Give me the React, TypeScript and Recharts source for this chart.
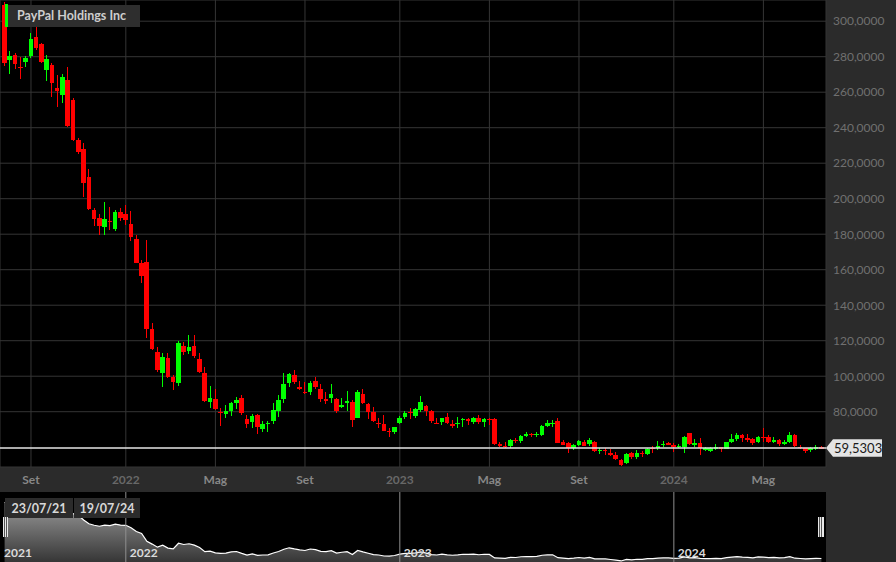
import React from 'react'
import { ComposedChart, Bar, XAxis, YAxis, CartesianGrid, ReferenceLine, AreaChart, Area } from 'recharts'

// weekly candles, PayPal, from the week ending 30/07/21 to 19/07/24
const OPEN = [
  309, 278, 281, 274.3, 277.2, 280.6, 291.1, 287, 272.4, 275.2, 262.3, 258.4, 266.9, 255.6, 233.1, 228,
  212.5, 193.6, 189.2, 183.8, 187.6, 182.8, 192.5, 191.5, 185.9, 177.1, 163.6, 164.5, 126.4, 113.5, 102, 110,
  99.7, 96, 117.2, 114.2, 117, 109.7, 102, 85.3, 87.3, 79.7, 78.5, 80.4, 84.7, 87.9, 75.9, 74.3,
  78, 70.1, 72.9, 75, 80.6, 87, 96.3, 100.7, 93.9, 91.1, 91.1, 97.3, 92.8, 87, 87.5, 87.2,
  82.8, 84.7, 85.3, 76.6, 90, 84.2, 79.7, 73.9, 72.9, 69.2, 68.7, 73.8, 76.8, 80, 77.5, 81,
  83.3, 80.4, 73.6, 74, 76.8, 72.9, 72.9, 75.2, 75.7, 74.3, 76.6, 74.3, 75.9, 75.7, 61.6, 60.8,
  60.7, 64, 63.6, 66.6, 67.6, 66.8, 66.7, 71.9, 73.1, 74.8, 63.1, 62.2, 59.7, 61.2, 63.1, 61.6,
  63.1, 57.6, 58.3, 56.9, 55.6, 52.8, 50.9, 56.6, 54.3, 56.6, 56, 59.7, 59.4, 61, 62.2, 61.2,
  60.1, 59.9, 67.8, 61.1, 62.2, 58.4, 58.1, 59, 59.9, 59, 63.1, 64.4, 66.9, 65, 64.4, 62.8,
  65.6, 65.6, 62.9, 63.8, 61.8, 62.8, 66.9, 60.3, 59.4, 58.4, 59.2, 59.9,
]
const HIGH = [
  311, 283.1, 282.3, 279.6, 280.5, 293.4, 297, 287.5, 281.2, 276.3, 269.7, 270.2, 274, 256.5, 234, 231.3,
  216.5, 194.6, 191.1, 198, 195.5, 193.6, 194.6, 196.5, 193.2, 179.6, 165.5, 176.7, 129.8, 116.6, 112.9, 113.2,
  100.7, 120, 119.4, 123.2, 123.2, 112.9, 105, 94.5, 92.6, 82.3, 83.8, 85.6, 88.5, 89.4, 78.1, 78.7,
  78.7, 75, 75, 85.1, 89.4, 102, 102, 103.5, 97.5, 96.6, 97.5, 99.4, 95.6, 91.3, 95.6, 87.6,
  87.6, 91.5, 86.6, 92.2, 92.8, 84.7, 82.8, 76.3, 78.1, 70.6, 71.5, 77.8, 80.4, 81.9, 82.3, 88.8,
  83.8, 81, 76.3, 76.5, 79.1, 75.3, 76.8, 76.3, 76.6, 76.8, 78.1, 76.3, 76.6, 76.3, 62.8, 63.1,
  64.5, 65, 67, 68.7, 68, 68.7, 72.5, 75.3, 75.3, 76.3, 64.1, 63.1, 61.6, 63.8, 63.8, 65.3,
  63.3, 59.7, 59.4, 58.8, 57.5, 53.2, 56.6, 57.5, 58.4, 58, 59.7, 60.6, 63.6, 63.6, 63.1, 62.2,
  61.9, 66.3, 68.2, 64.5, 65, 60.1, 60, 61.7, 60.3, 63.1, 67.5, 67.8, 67.5, 67.5, 65, 66.3,
  70.6, 66.9, 65.6, 64.4, 63.8, 68.4, 67.3, 61, 59.7, 60.3, 61.2, 60.8,
]
const LOW = [
  274.7, 270, 272.9, 267.2, 274, 279.3, 283.9, 276.2, 266.2, 257.5, 251.9, 254.1, 240.6, 232.5, 225.3, 200.8,
  193.6, 184.6, 179.8, 179.8, 182.4, 182, 187.6, 185.2, 176, 163.6, 152.3, 121.3, 114.8, 102.5, 94.1, 98.8,
  92, 94.6, 111.9, 112.5, 110, 101.6, 85.6, 81.9, 81, 72, 76.3, 77.6, 81.4, 78.1, 70.6, 71,
  67.3, 68.4, 68.5, 73.1, 77.2, 85.1, 93.7, 95.4, 92.5, 89.8, 89.4, 92.8, 85.6, 84.2, 85.1, 79.1,
  82, 80.6, 71.2, 76.3, 84.2, 75.7, 74.3, 70.6, 69.1, 65.9, 67.3, 72.9, 75.7, 75.7, 76.6, 79.7,
  77.8, 73.8, 72.9, 72.5, 72.9, 71, 71, 71.5, 72.5, 72.9, 72.9, 71.5, 72.5, 61.2, 60.3, 59.4,
  59.4, 62.2, 62.5, 65.5, 65.5, 65.5, 66.3, 71.5, 71.5, 62.2, 61, 56.9, 58.4, 60.7, 60.4, 60.8,
  57.4, 56.1, 55.6, 55, 52.8, 49.4, 50.4, 53.2, 53.3, 54.6, 55.6, 56.9, 58.4, 60.3, 61, 57.5,
  59.4, 56.6, 61.2, 60.3, 55.6, 57.8, 57.2, 58.4, 57.5, 58.8, 62.6, 63.6, 63.1, 63.1, 61.2, 62.2,
  63.1, 62.2, 62.2, 60.8, 61, 62.2, 60.3, 59.2, 56.9, 57.5, 58.4, 59,
]
const CLOSE = [
  276.4, 280.4, 275.8, 273.9, 279.3, 290, 284.9, 277.1, 278.8, 265.4, 260.8, 268.8, 241, 233.1, 226.5, 208.6,
  194, 188.4, 184.5, 188.5, 186.7, 192.3, 189.1, 188, 178.6, 163.9, 156.5, 126.4, 115.3, 103.5, 110.8, 99.7,
  96.6, 118.7, 113.8, 116.6, 111.4, 102.4, 86.2, 87.7, 81.5, 79.1, 80.6, 85.1, 86.6, 79.4, 72.9, 77.5,
  71.6, 73.1, 73.8, 81, 86.6, 95.4, 101, 96.6, 92.8, 90.6, 96.3, 94.1, 87, 86.1, 90.1, 80.4,
  83.8, 86.2, 75.3, 90.9, 85.1, 80, 74.8, 73.1, 69.3, 68.6, 71.2, 76.6, 79.4, 79.4, 81.5, 85.3,
  80.6, 74.8, 73.1, 76.3, 73.5, 72.2, 73.6, 75.9, 75.2, 76.6, 74, 75.9, 75.2, 61.6, 60.9, 60.3,
  64.1, 63.5, 66.3, 67.2, 66.9, 67.5, 72.1, 73.5, 73.9, 62.6, 61.3, 59.4, 61.1, 63.4, 60.8, 63.8,
  57.9, 58.3, 57.8, 55.6, 53.3, 50, 56, 54.3, 56.6, 56.1, 59.2, 59, 60.8, 61.7, 61.7, 59.9,
  60.8, 66, 61.8, 62.6, 59.7, 59.4, 59.4, 60.3, 59.2, 62.8, 64.7, 66.9, 65, 64.2, 62.2, 65.6,
  65.1, 62.8, 63.8, 61.6, 63.1, 66.9, 60.7, 59.6, 58.1, 59.4, 59.9, 59.5303,
]

const START = Date.UTC(2021, 6, 30)
const WEEKS = CLOSE.map((_, i) => new Date(START + i * 7 * 86400000).toISOString().slice(0, 10))

const X_TICK_INDEX = [5, 23, 40, 57, 75, 92, 109, 127, 144]
const X_TICK_LABELS = ['Set', '2022', 'Mag', 'Set', '2023', 'Mag', 'Set', '2024', 'Mag']
const Y_TICKS = [80, 100, 120, 140, 160, 180, 200, 220, 240, 260, 280, 300]
const YEAR_INDEX = [23, 75, 127]
const YEAR_LABELS = ['2022', '2023', '2024']
const LAST = 59.5303

const DATA = WEEKS.map((date, i) => ({ date, open: OPEN[i], high: HIGH[i], low: LOW[i], close: CLOSE[i] }))
const X_TICKS = X_TICK_INDEX.map(i => WEEKS[i])
const LABEL_OF: Record<string, string> = {}
X_TICK_INDEX.forEach((i, k) => { LABEL_OF[WEEKS[i]] = X_TICK_LABELS[k] })

const fmt = (v: number) => v.toFixed(4).replace('.', ',')

const Candle = (props: any) => {
  const { x, y, width, height, payload } = props
  if (!payload) return null
  const { open, close, high, low } = payload
  const k = height / (high - low)
  const up = close >= open
  const color = up ? '#00ff00' : '#ff0000'
  const cx = x + width / 2
  const top = y + (high - Math.max(open, close)) * k
  const bot = y + (high - Math.min(open, close)) * k
  return (
    <g shapeRendering="crispEdges">
      <rect x={Math.floor(cx)} y={y} width={1} height={Math.max(height, 1)} fill={color} />
      <rect x={cx - 2.3} y={top} width={4.6} height={Math.max(bot - top, 1.2)} fill={color} />
    </g>
  )
}

const XTick = (props: any) => {
  const { x, y, payload } = props
  const label = LABEL_OF[payload.value] || ''
  const isYear = /^\d+$/.test(label)
  return (
    <text x={x} y={y + 16.5} textAnchor="middle" fontSize={12} fontWeight="bold"
      fill={isYear ? '#686868' : '#878787'} fontFamily="Lato">{label}</text>
  )
}

const YTick = (props: any) => {
  const { x, y, payload } = props
  return (
    <text x={x + 7} y={y + 4.3} fontSize={12} fill="#707070" fontFamily="Lato">{fmt(payload.value)}</text>
  )
}

const PriceTag = (props: any) => {
  const vb = props.viewBox || {}
  const x = (vb.x || 0) + (vb.width || 0)
  const y = vb.y || 0
  return (
    <g>
      <path d={`M${x},${y} L${x + 7},${y - 8.7} L${x + 56},${y - 8.7} L${x + 56},${y + 8.7} L${x + 7},${y + 8.7} Z`} fill="#e4e4e4" />
      <text x={x + 8} y={y + 4.7} fontSize={13} fill="#1a1a1a" fontFamily="Lato">{fmt(LAST)}</text>
    </g>
  )
}

const YearLabel = (props: any) => {
  const vb = props.viewBox || {}
  return (
    <text x={(vb.x || 0) + 4} y={(vb.y || 0) + (vb.height || 0) - 5} fontSize={12} fontWeight="bold"
      fill="#dadada" fontFamily="Lato">{props.text}</text>
  )
}

export default function App() {
  return (
    <div style={{ position: 'relative', width: 896, height: 562, background: '#2b2b2b', overflow: 'hidden', fontFamily: 'Lato, sans-serif' }}>
      <style>{'body{margin:0}'}</style>
      <ComposedChart width={896} height={492} data={DATA} margin={{ top: 0, right: 0, bottom: 0, left: 0 }}
        barCategoryGap={0} barGap={0}>
        <CartesianGrid stroke="#353535" fill="#000" fillOpacity={1} />
        <XAxis dataKey="date" ticks={X_TICKS} interval={0} height={25} axisLine={false} tickLine={false}
          tickSize={0} tickMargin={0} tick={<XTick />} padding={{ left: 2, right: 2 }} />
        <YAxis orientation="right" width={70} domain={[48.85, 311.94]} ticks={Y_TICKS} interval={0}
          allowDataOverflow axisLine={false} tickLine={false} tickSize={0} tickMargin={0} tick={<YTick />} />
        <Bar dataKey={(d: any) => [d.low, d.high]} shape={<Candle />} isAnimationActive={false} />
        <ReferenceLine y={LAST} stroke="#e6e6e6" strokeWidth={1.5} label={<PriceTag />} />
      </ComposedChart>

      <div style={{ position: 'absolute', left: 5, top: 4, width: 3, height: 23, background: '#00ff00' }} />
      <div style={{ position: 'absolute', left: 8, top: 5, width: 132, height: 22, background: '#2e2e2e',
        color: '#cdcdcd', fontSize: 12.5, fontWeight: 'bold', lineHeight: '22px', paddingLeft: 9, boxSizing: 'border-box' }}>
        PayPal Holdings Inc
      </div>

      <div style={{ position: 'absolute', left: 0, top: 492, width: 826, height: 70, background: '#000' }}>
        <AreaChart width={826} height={70} data={DATA} margin={{ top: 0, right: 0, bottom: 0, left: 0 }}>
          <defs>
            <linearGradient id="navFill" x1="0" y1="0" x2="0" y2="1">
              <stop offset="0%" stopColor="#a0a0a0" />
              <stop offset="100%" stopColor="#363636" />
            </linearGradient>
          </defs>
          <XAxis dataKey="date" hide padding={{ left: 4.6, right: 4.6 }} />
          <YAxis hide domain={[46, 317]} allowDataOverflow />
          {YEAR_INDEX.map((i, k) => (
            <ReferenceLine key={i} x={WEEKS[i]} stroke="#8f8f8f" label={<YearLabel text={YEAR_LABELS[k]} />} />
          ))}
          <Area type="linear" dataKey="close" stroke="#ffffff" strokeWidth={1.2} fill="url(#navFill)"
            fillOpacity={1} isAnimationActive={false} />
        </AreaChart>
        <svg width={826} height={70} style={{ position: 'absolute', left: 0, top: 0 }}>
          <text x={4} y={65} fontSize={12} fontWeight="bold" fill="#dadada" fontFamily="Lato">2021</text>
          <rect x={5} y={6} width={68} height={20} fill="#2b2b2b" />
          <text x={39} y={20.5} textAnchor="middle" fontSize={12.5} fontWeight="bold" fill="#d8d8d8" fontFamily="Lato">23/07/21</text>
          <rect x={74} y={6} width={66} height={20} fill="#2b2b2b" />
          <text x={107} y={20.5} textAnchor="middle" fontSize={12.5} fontWeight="bold" fill="#d8d8d8" fontFamily="Lato">19/07/24</text>
          <g shapeRendering="crispEdges">
            <rect x={3} y={25} width={5} height={20} fill="#e8e8e8" />
            <rect x={4} y={25} width={1} height={20} fill="#555" />
            <rect x={6} y={25} width={1} height={20} fill="#555" />
            <rect x={818} y={25} width={6} height={20} fill="#e8e8e8" />
            <rect x={819} y={25} width={1} height={20} fill="#555" />
            <rect x={821} y={25} width={1} height={20} fill="#555" />
          </g>
        </svg>
      </div>
    </div>
  )
}
